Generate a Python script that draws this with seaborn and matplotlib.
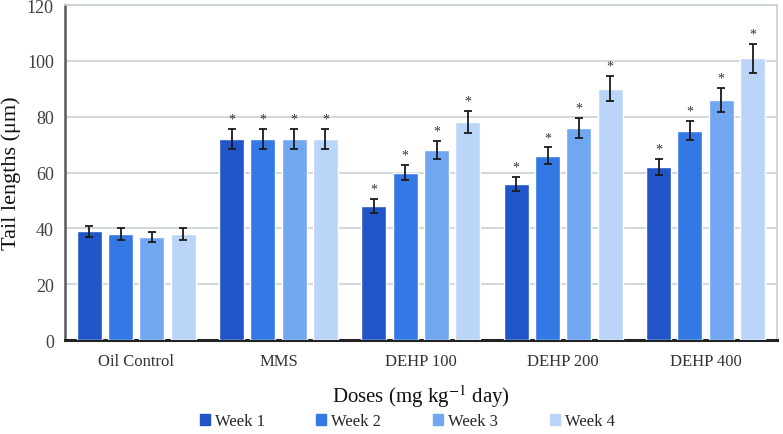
import matplotlib
matplotlib.use("Agg")
import matplotlib.pyplot as plt
import pandas as pd
import seaborn as sns
import numpy as np

# data
doses = ["Oil Control", "MMS", "DEHP 100", "DEHP 200", "DEHP 400"]
weeks = ["Week 1", "Week 2", "Week 3", "Week 4"]
week1 = [39, 72, 48, 56, 62]
week2 = [38, 72, 60, 66, 75]
week3 = [37, 72, 68, 76, 86]
week4 = [38, 72, 78, 90, 101]
err1 = [2.0, 3.6, 2.5, 2.5, 3.0]
err2 = [2.0, 3.6, 2.8, 3.0, 3.5]
err3 = [1.8, 3.6, 3.3, 3.5, 4.3]
err4 = [2.0, 3.6, 4.0, 4.5, 5.2]
starred = [False, True, True, True, True]
colors = ["#2155c8", "#3478e6", "#71a6f0", "#bad5f8"]

rows = []
for w, vals, errs in zip(weeks, [week1, week2, week3, week4], [err1, err2, err3, err4]):
    for d, v, e, s in zip(doses, vals, errs, starred):
        rows.append({"Dose": d, "Week": w, "Tail": v, "SD": e, "Star": s})
df = pd.DataFrame(rows)

sns.set_style("white")
plt.rcParams["font.family"] = ["Liberation Serif", "DejaVu Serif"]
plt.rcParams["mathtext.fontset"] = "stix"

fig = plt.figure(figsize=(7.83, 4.35), dpi=100)
ax = fig.add_axes([0.083, 0.216, 0.909, 0.77])

sns.barplot(data=df, x="Dose", y="Tail", hue="Week", order=doses, hue_order=weeks,
            palette=colors, saturation=1, width=0.88, gap=0.2, errorbar=None,
            ax=ax, zorder=3, legend=False)

# error bars and asterisks from the bar patches
bars = [p for p in ax.patches if p.get_height() > 0]
for wi, w in enumerate(weeks):
    sub = df[df.Week == w].set_index("Dose").loc[doses]
    for di, d in enumerate(doses):
        p = bars[wi * len(doses) + di]
        xc = p.get_x() + p.get_width() / 2
        h = sub.loc[d, "Tail"]
        e = sub.loc[d, "SD"]
        ax.errorbar(xc, h, yerr=e, color="#1a1a1a", capsize=3, elinewidth=1.3,
                    capthick=1.3, zorder=4)
        if sub.loc[d, "Star"]:
            ax.text(xc, h + e + 1.2, "*", ha="center", va="bottom",
                    fontsize=10, color="#333333")

ax.set_ylim(0, 120)
ax.set_yticks(range(0, 121, 20))
ax.set_xlim(-0.5, 4.5)
ax.yaxis.grid(True, color="#c8cfd3", linewidth=1.2, zorder=0)
ax.set_axisbelow(True)

for s in ["top", "right"]:
    ax.spines[s].set_color("#c8cfd3")
    ax.spines[s].set_linewidth(1.2)
ax.spines["left"].set_color("#555b60")
ax.spines["left"].set_linewidth(1.8)
ax.spines["bottom"].set_color("#222222")
ax.spines["bottom"].set_linewidth(2.2)

ax.tick_params(axis="y", labelsize=13, colors="#404040", length=0, pad=8)
ax.tick_params(axis="x", labelsize=12, colors="#333333", length=0, pad=9)

ax.set_ylabel("Tail lengths (μm)", fontsize=16, color="#111111", labelpad=4)
ax.set_xlabel("Doses (mg kg$^{-1}$ day)", fontsize=15, color="#111111", labelpad=10)

handles = [plt.Rectangle((0, 0), 1, 1, color=c) for c in colors]
fig.legend(handles, weeks, loc="lower center", bbox_to_anchor=(0.52, -0.012), ncol=4,
           frameon=False, fontsize=12, handlelength=0.6, handleheight=0.6,
           handletextpad=0.3, columnspacing=3.1, borderpad=0.1)

fig.savefig("out.png", dpi=100)
